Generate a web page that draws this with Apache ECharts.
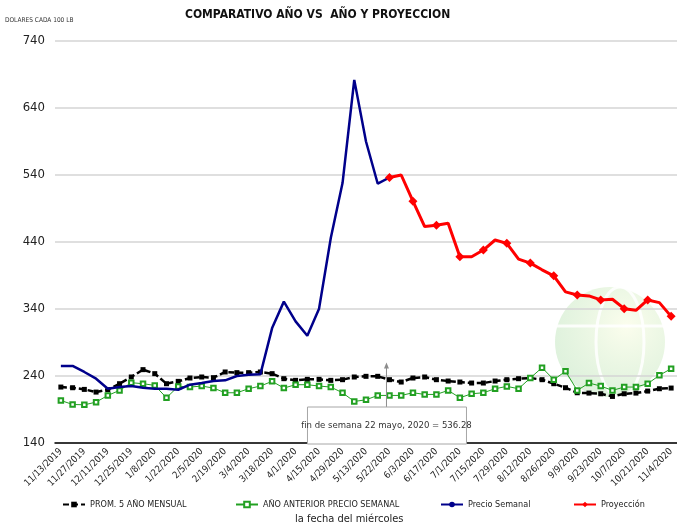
<!DOCTYPE html>
<html lang="es">
<head>
    <meta charset="UTF-8">
    <title>Comparativo año vs año y proyección</title>
    <script src="https://cdn.jsdelivr.net/npm/echarts@6/dist/echarts.min.js"></script>
    <style>
        body, html {
            margin: 0;
            padding: 0;
            background-color: #ffffff;
        }
        #chart {
            width: 677px;
            height: 526px;
        }
    </style>
</head>
<body>
    <div id="chart"></div>

    <script>
        // fechas (miércoles), con el fin de semana del 22 de mayo intercalado
        const dates = [
            '11/13/2019', '11/20/2019', '11/27/2019', '12/4/2019', '12/11/2019', '12/18/2019', '12/25/2019',
            '1/1/2020', '1/8/2020', '1/15/2020', '1/22/2020', '1/29/2020', '2/5/2020', '2/12/2020',
            '2/19/2020', '2/26/2020', '3/4/2020', '3/11/2020', '3/18/2020', '3/25/2020', '4/1/2020',
            '4/8/2020', '4/15/2020', '4/22/2020', '4/29/2020', '5/6/2020', '5/13/2020', '5/20/2020',
            '5/22/2020', '5/27/2020', '6/3/2020', '6/10/2020', '6/17/2020', '6/24/2020', '7/1/2020',
            '7/8/2020', '7/15/2020', '7/22/2020', '7/29/2020', '8/5/2020', '8/12/2020', '8/19/2020',
            '8/26/2020', '9/2/2020', '9/9/2020', '9/16/2020', '9/23/2020', '9/30/2020', '10/7/2020',
            '10/14/2020', '10/21/2020', '10/28/2020', '11/4/2020'
        ];

        const prom5Anos = [
            223.5, 222.5, 220, 216, 219.5, 228.5, 238.5, 249.5, 243.5, 228.5, 232, 237, 238.5, 237.5,
            246, 245, 245, 246, 243.5, 236, 233.5, 235, 235, 233.5, 234.5, 238.5, 239.5, 239.5,
            234.5, 231, 237, 238.5, 234.5, 232.5, 231, 229.5, 229.5, 232.5, 234.5, 236, 237, 234.5,
            228.5, 222.5, 215, 214.5, 213.5, 209.5, 213.5, 214.5, 217.5, 221, 222
        ];

        const anoAnterior = [
            203.5, 197.5, 197, 201, 211, 218.5, 230, 228.5, 226, 207.5, 224.5, 223.5, 225, 222,
            215, 215, 221, 225, 232, 222, 227, 227, 225, 223.5, 215, 202, 204.5, 211,
            211, 211, 215, 212.5, 212.5, 218.5, 207.5, 213.5, 215, 221, 224.5, 221, 237, 252.5,
            234.5, 247, 218.5, 229.5, 225, 218.5, 223.5, 223.5, 228.5, 241, 251
        ];

        const precioSemanal = [
            255, 255, 246, 236, 221, 223.5, 225, 222.5, 221, 221, 219.5, 227, 229.5, 232.5,
            233.5, 240, 242, 242.5, 311.5, 351, 321.5, 300, 340.5, 446, 528, 682, 590, 527,
            536.28
        ];

        const proyeccion = [
            536.28, 540, 501, 463, 465, 468, 418, 418, 428, 443, 438, 414.5, 408.5, 398.5,
            389.5, 365.5, 361, 359.5, 353.5, 354.5, 340.5, 338, 353.5, 349.5, 329
        ];

        const yTicks = { min: 140, max: 740, step: 100 };

        const narrowFont = "'Liberation Sans Narrow', 'DejaVu Sans Condensed', sans-serif";
        const smallFont = "'DejaVu Sans Condensed', 'Liberation Sans Narrow', sans-serif";

        // las series se alinean sobre todas las fechas
        const projStart = dates.indexOf('5/22/2020');
        const blueData = dates.map((d, i) => i < precioSemanal.length ? precioSemanal[i] : null);
        const redData = dates.map((d, i) => i >= projStart ? proyeccion[i - projStart] : null);

        const chart = echarts.init(document.getElementById('chart'));

        function legendAt(left, name) {
            return {
                data: [name],
                left: left,
                top: 500,
                padding: 0,
                itemWidth: 22,
                itemHeight: 7,
                textStyle: { fontFamily: smallFont, fontSize: 9, color: '#222' }
            };
        }

        const option = {
            backgroundColor: '#ffffff',
            animation: false,
            title: [
                {
                    text: 'COMPARATIVO AÑO VS  AÑO Y PROYECCION',
                    left: 185,
                    top: 9,
                    padding: 0,
                    textStyle: { fontFamily: narrowFont, fontSize: 12, fontWeight: 'bold', color: '#111' }
                },
                {
                    text: 'DOLARES CADA 100 LB',
                    left: 5,
                    top: 17,
                    padding: 0,
                    textStyle: { fontFamily: narrowFont, fontSize: 6.5, fontWeight: 'normal', color: '#333' }
                },
                {
                    text: 'la fecha del miércoles',
                    left: 295,
                    top: 514,
                    padding: 0,
                    textStyle: { fontFamily: smallFont, fontSize: 11, fontWeight: 'normal', color: '#222' }
                }
            ],
            legend: [
                legendAt(62, 'PROM. 5 AÑO MENSUAL'),
                legendAt(235, 'AÑO ANTERIOR PRECIO SEMANAL'),
                legendAt(440, 'Precio Semanal'),
                legendAt(573, 'Proyección')
            ],
            grid: { left: 55, right: -1, top: 41, bottom: 83 },
            xAxis: {
                type: 'category',
                data: dates,
                boundaryGap: true,
                axisLine: { lineStyle: { color: '#000', width: 1.5 } },
                axisTick: { interval: 0, length: 4, lineStyle: { color: '#000' } },
                axisLabel: {
                    interval: 1,
                    rotate: 45,
                    margin: 7,
                    fontFamily: smallFont,
                    fontSize: 9.5,
                    color: '#222'
                },
                splitLine: { show: false }
            },
            yAxis: {
                type: 'value',
                min: yTicks.min,
                max: yTicks.max,
                interval: yTicks.step,
                axisLine: { show: false },
                axisTick: { show: false },
                axisLabel: { fontFamily: narrowFont, fontSize: 13, color: '#222', margin: 10 },
                splitLine: { lineStyle: { color: '#d4d4d4', width: 1.5 } }
            },
            graphic: [
                {
                    // marca de agua (globo)
                    id: 'globe',
                    type: 'circle',
                    z: 0,
                    silent: true,
                    shape: { cx: 610, cy: 342, r: 55 },
                    style: {
                        fill: new echarts.graphic.RadialGradient(0.65, 0.35, 0.8, [
                            { offset: 0, color: 'rgba(248,252,220,0.5)' },
                            { offset: 1, color: 'rgba(165,218,165,0.4)' }
                        ])
                    }
                },
                {
                    id: 'globeMeridian',
                    type: 'ellipse',
                    z: 0,
                    silent: true,
                    shape: { cx: 620, cy: 342, rx: 24, ry: 55 },
                    style: { fill: 'none', stroke: 'rgba(255,255,255,0.85)', lineWidth: 3 }
                },
                {
                    id: 'globeParallel',
                    type: 'line',
                    z: 0,
                    silent: true,
                    shape: { x1: 557, y1: 326, x2: 664, y2: 326 },
                    style: { stroke: 'rgba(255,255,255,0.85)', lineWidth: 3 }
                }
            ],
            series: [
                {
                    name: 'PROM. 5 AÑO MENSUAL',
                    type: 'line',
                    data: prom5Anos,
                    symbol: 'rect',
                    symbolSize: 5,
                    z: 3,
                    itemStyle: { color: '#000' },
                    lineStyle: { color: '#000', width: 2.5, type: [6, 3] }
                },
                {
                    name: 'AÑO ANTERIOR PRECIO SEMANAL',
                    type: 'line',
                    data: anoAnterior,
                    symbol: 'emptyRect',
                    symbolSize: 4.5,
                    z: 3,
                    itemStyle: { color: '#22a022', borderWidth: 1 },
                    lineStyle: { color: '#22a022', width: 1 }
                },
                {
                    name: 'Precio Semanal',
                    type: 'line',
                    data: blueData,
                    symbol: 'none',
                    z: 4,
                    itemStyle: { color: '#00008b' },
                    lineStyle: { color: '#00008b', width: 2.5 }
                },
                {
                    name: 'Proyección',
                    type: 'line',
                    data: redData,
                    symbol: 'diamond',
                    symbolSize: 9,
                    z: 5,
                    itemStyle: { color: '#ff0000' },
                    lineStyle: { color: '#ff0000', width: 3 }
                }
            ]
        };

        chart.setOption(option);

        // anotación del 22 de mayo, anclada a la categoría y al eje
        const ax = chart.convertToPixel({ xAxisIndex: 0 }, '5/22/2020') - 3;
        const arrowTop = chart.convertToPixel({ yAxisIndex: 0 }, 260);
        const axisY = chart.convertToPixel({ yAxisIndex: 0 }, yTicks.min);
        const boxTop = axisY - 36;

        chart.setOption({
            graphic: [
                {
                    id: 'noteLine',
                    type: 'line',
                    z: 100,
                    silent: true,
                    shape: { x1: ax, y1: boxTop, x2: ax, y2: arrowTop + 4 },
                    style: { stroke: '#8c8c8c', lineWidth: 1 }
                },
                {
                    id: 'noteArrow',
                    type: 'polygon',
                    z: 100,
                    silent: true,
                    shape: { points: [[ax, arrowTop], [ax - 2.5, arrowTop + 6], [ax + 2.5, arrowTop + 6]] },
                    style: { fill: '#8c8c8c' }
                },
                {
                    id: 'noteBox',
                    type: 'rect',
                    z: 100,
                    silent: true,
                    shape: { x: ax - 79, y: boxTop, width: 159, height: 37 },
                    style: { fill: '#ffffff', stroke: '#a6a6a6', lineWidth: 1 }
                },
                {
                    id: 'noteText',
                    type: 'text',
                    z: 101,
                    silent: true,
                    x: ax,
                    y: boxTop + 19,
                    style: {
                        text: 'fin de semana 22 mayo, 2020 = 536.28',
                        align: 'center',
                        verticalAlign: 'middle',
                        fontFamily: smallFont,
                        fontSize: 9.5,
                        fill: '#333'
                    }
                }
            ]
        });
    </script>
</body>
</html>
